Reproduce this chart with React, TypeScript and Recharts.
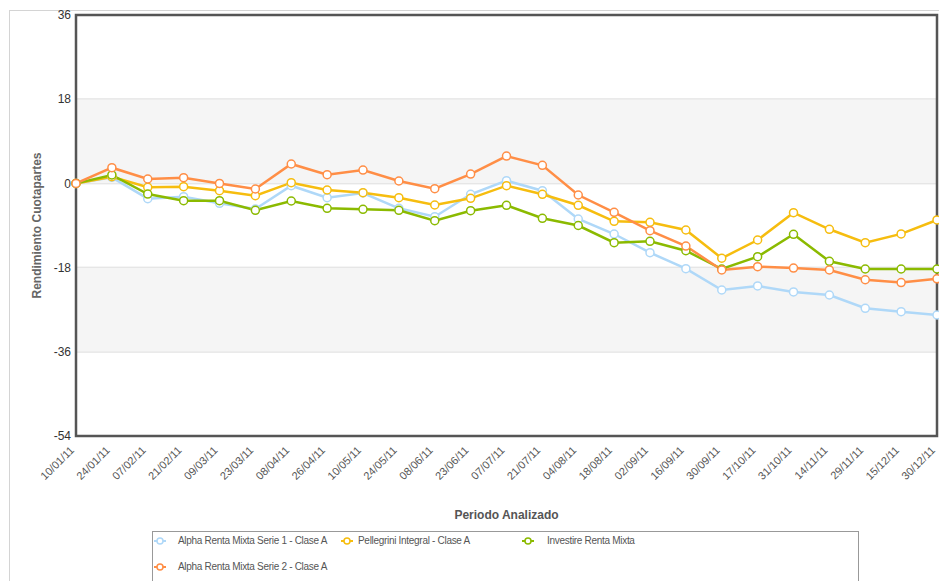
import {
    CartesianGrid,
    Line,
    LineChart,
    ReferenceArea,
    XAxis,
    YAxis
} from 'recharts';

const fechas = [
    '10/01/11', '24/01/11', '07/02/11', '21/02/11', '09/03/11', '23/03/11',
    '08/04/11', '26/04/11', '10/05/11', '24/05/11', '08/06/11', '23/06/11',
    '07/07/11', '21/07/11', '04/08/11', '18/08/11', '02/09/11', '16/09/11',
    '30/09/11', '17/10/11', '31/10/11', '14/11/11', '29/11/11', '15/12/11',
    '30/12/11'
];

const alphaSerie1 = [
    0, 1.3, -3.27, -2.84, -4.25, -5.47, -0.49, -3.06, -2.05, -5.32, -7.12, -2.33,
    0.58, -1.56, -7.61, -10.82, -14.81, -18.23, -22.79, -21.93, -23.2, -23.86,
    -26.7, -27.42, -28.13
];
const pellegrini = [
    0, 1.43, -0.83, -0.7, -1.56, -2.63, 0.15, -1.41, -1.99, -3.06, -4.62, -3.19,
    -0.49, -2.33, -4.68, -8.1, -8.32, -9.96, -16.0, -12.1, -6.26, -9.81,
    -12.68, -10.8, -7.82
];
const investire = [
    0, 1.8, -2.27, -3.7, -3.7, -5.75, -3.76, -5.32, -5.53, -5.75, -7.97, -5.84,
    -4.68, -7.46, -9.0, -12.68, -12.38, -14.39, -18.3, -15.67, -10.88, -16.65,
    -18.3, -18.3, -18.3
];
const alphaSerie2 = [
    0, 3.36, 0.94, 1.22, 0, -1.2, 4.15, 1.86, 2.86, 0.51, -1.13, 2.0,
    5.85, 3.87, -2.48, -6.18, -10.1, -13.4, -18.5, -17.8, -18.1, -18.5,
    -20.6, -21.2, -20.4
];

const yTicks = [36, 18, 0, -18, -36, -54];

const series = [
    { key: 'a1', name: 'Alpha Renta Mixta Serie 1 - Clase A', color: '#AFD8F8', values: alphaSerie1 },
    { key: 'pe', name: 'Pellegrini Integral - Clase A', color: '#F6BD0F', values: pellegrini },
    { key: 'in', name: 'Investire Renta Mixta', color: '#8BBA00', values: investire },
    { key: 'a2', name: 'Alpha Renta Mixta Serie 2 - Clase A', color: '#FF8E46', values: alphaSerie2 }
];

const data = fechas.map((fecha, i) => {
    const row: Record<string, string | number> = { fecha };
    series.forEach((s) => {
        row[s.key] = s.values[i];
    });
    return row;
});

// legend slots: icon centre x, text x, row centre y
const legendSlots = [
    { icon: 160, text: 178, y: 541 },
    { icon: 347, text: 358, y: 541 },
    { icon: 528, text: 547, y: 541 },
    { icon: 160, text: 178, y: 567 }
];

const FechaTick = (props: any) => {
    const { x, y, payload } = props;
    return (
        <g transform={`translate(${x - 4},${y + 4})`}>
            <text
                x={0}
                y={0}
                dy={4}
                textAnchor="end"
                fill="#555"
                fontSize={11}
                transform="rotate(-45)"
            >
                {payload.value}
            </text>
        </g>
    );
};

export default function App() {
    return (
        <div
            style={{
                position   : 'absolute',
                left       : 0,
                top        : 0,
                width      : 939,
                height     : 581,
                overflow   : 'hidden',
                background : '#fff',
                fontFamily : 'Arial, "Liberation Sans", sans-serif'
            }}
        >
            <div
                style={{
                    position   : 'absolute',
                    left       : 9,
                    top        : 10,
                    width      : 960,
                    height     : 600,
                    borderLeft : '1px solid #d4d4d4',
                    borderTop  : '1px solid #d4d4d4'
                }}
            />
            <LineChart
                width={939}
                height={581}
                data={data}
                margin={{ top: 15, right: 2, left: 0, bottom: 0 }}
                style={{ position: 'absolute', left: 0, top: 0 }}
            >
                <ReferenceArea y1={18} y2={0} fill="#f5f5f5" fillOpacity={1} stroke="none" />
                <ReferenceArea y1={-18} y2={-36} fill="#f5f5f5" fillOpacity={1} stroke="none" />
                <CartesianGrid vertical={false} stroke="#d6d6d6" strokeWidth={1.5} />
                <XAxis
                    dataKey="fecha"
                    height={145}
                    interval={0}
                    axisLine={false}
                    tickLine={false}
                    tick={<FechaTick />}
                    label={{
                        value      : 'Periodo Analizado',
                        position   : 'insideBottom',
                        offset     : 62,
                        fill       : '#555',
                        fontSize   : 12,
                        fontWeight : 'bold'
                    }}
                />
                <YAxis
                    width={76}
                    domain={[-54, 36]}
                    ticks={yTicks}
                    interval={0}
                    axisLine={false}
                    tickLine={false}
                    tickSize={3}
                    tickMargin={2}
                    tick={{ fill: '#333', fontSize: 12 }}
                    label={{
                        value      : 'Rendimiento Cuotapartes',
                        angle      : -90,
                        position   : 'insideLeft',
                        offset     : 37,
                        fill       : '#666',
                        fontSize   : 12,
                        fontWeight : 'bold',
                        style      : { textAnchor: 'middle' }
                    }}
                />
                <ReferenceArea
                    x1={fechas[0]}
                    x2={fechas[fechas.length - 1]}
                    y1={-54}
                    y2={36}
                    fill="none"
                    stroke="#555"
                    strokeWidth={2.5}
                />
                {series.map((s) => (
                    <Line
                        key={s.key}
                        dataKey={s.key}
                        name={s.name}
                        type="linear"
                        stroke={s.color}
                        strokeWidth={2.5}
                        dot={{ r: 4, fill: '#fff', stroke: s.color, strokeWidth: 1.5 }}
                        activeDot={false}
                        isAnimationActive={false}
                    />
                ))}
            </LineChart>
            <div
                style={{
                    position : 'absolute',
                    left     : 152,
                    top      : 531,
                    width    : 705,
                    height   : 70,
                    border   : '1px solid #999'
                }}
            />
            {series.map((s, i) => (
                <div key={s.key}>
                    <svg
                        width={16}
                        height={10}
                        style={{
                            position : 'absolute',
                            left     : legendSlots[i].icon - 8,
                            top      : legendSlots[i].y - 5
                        }}
                    >
                        <line x1={2} y1={5} x2={14} y2={5} stroke={s.color} strokeWidth={2} />
                        <circle cx={8} cy={5} r={3} fill="#fff" stroke={s.color} strokeWidth={1.5} />
                    </svg>
                    <div
                        style={{
                            position      : 'absolute',
                            left          : legendSlots[i].text,
                            top           : legendSlots[i].y - 7,
                            height        : 14,
                            lineHeight    : '14px',
                            fontSize      : 10,
                            letterSpacing : -0.3,
                            color         : '#555',
                            whiteSpace    : 'nowrap'
                        }}
                    >
                        {s.name}
                    </div>
                </div>
            ))}
        </div>
    );
}
